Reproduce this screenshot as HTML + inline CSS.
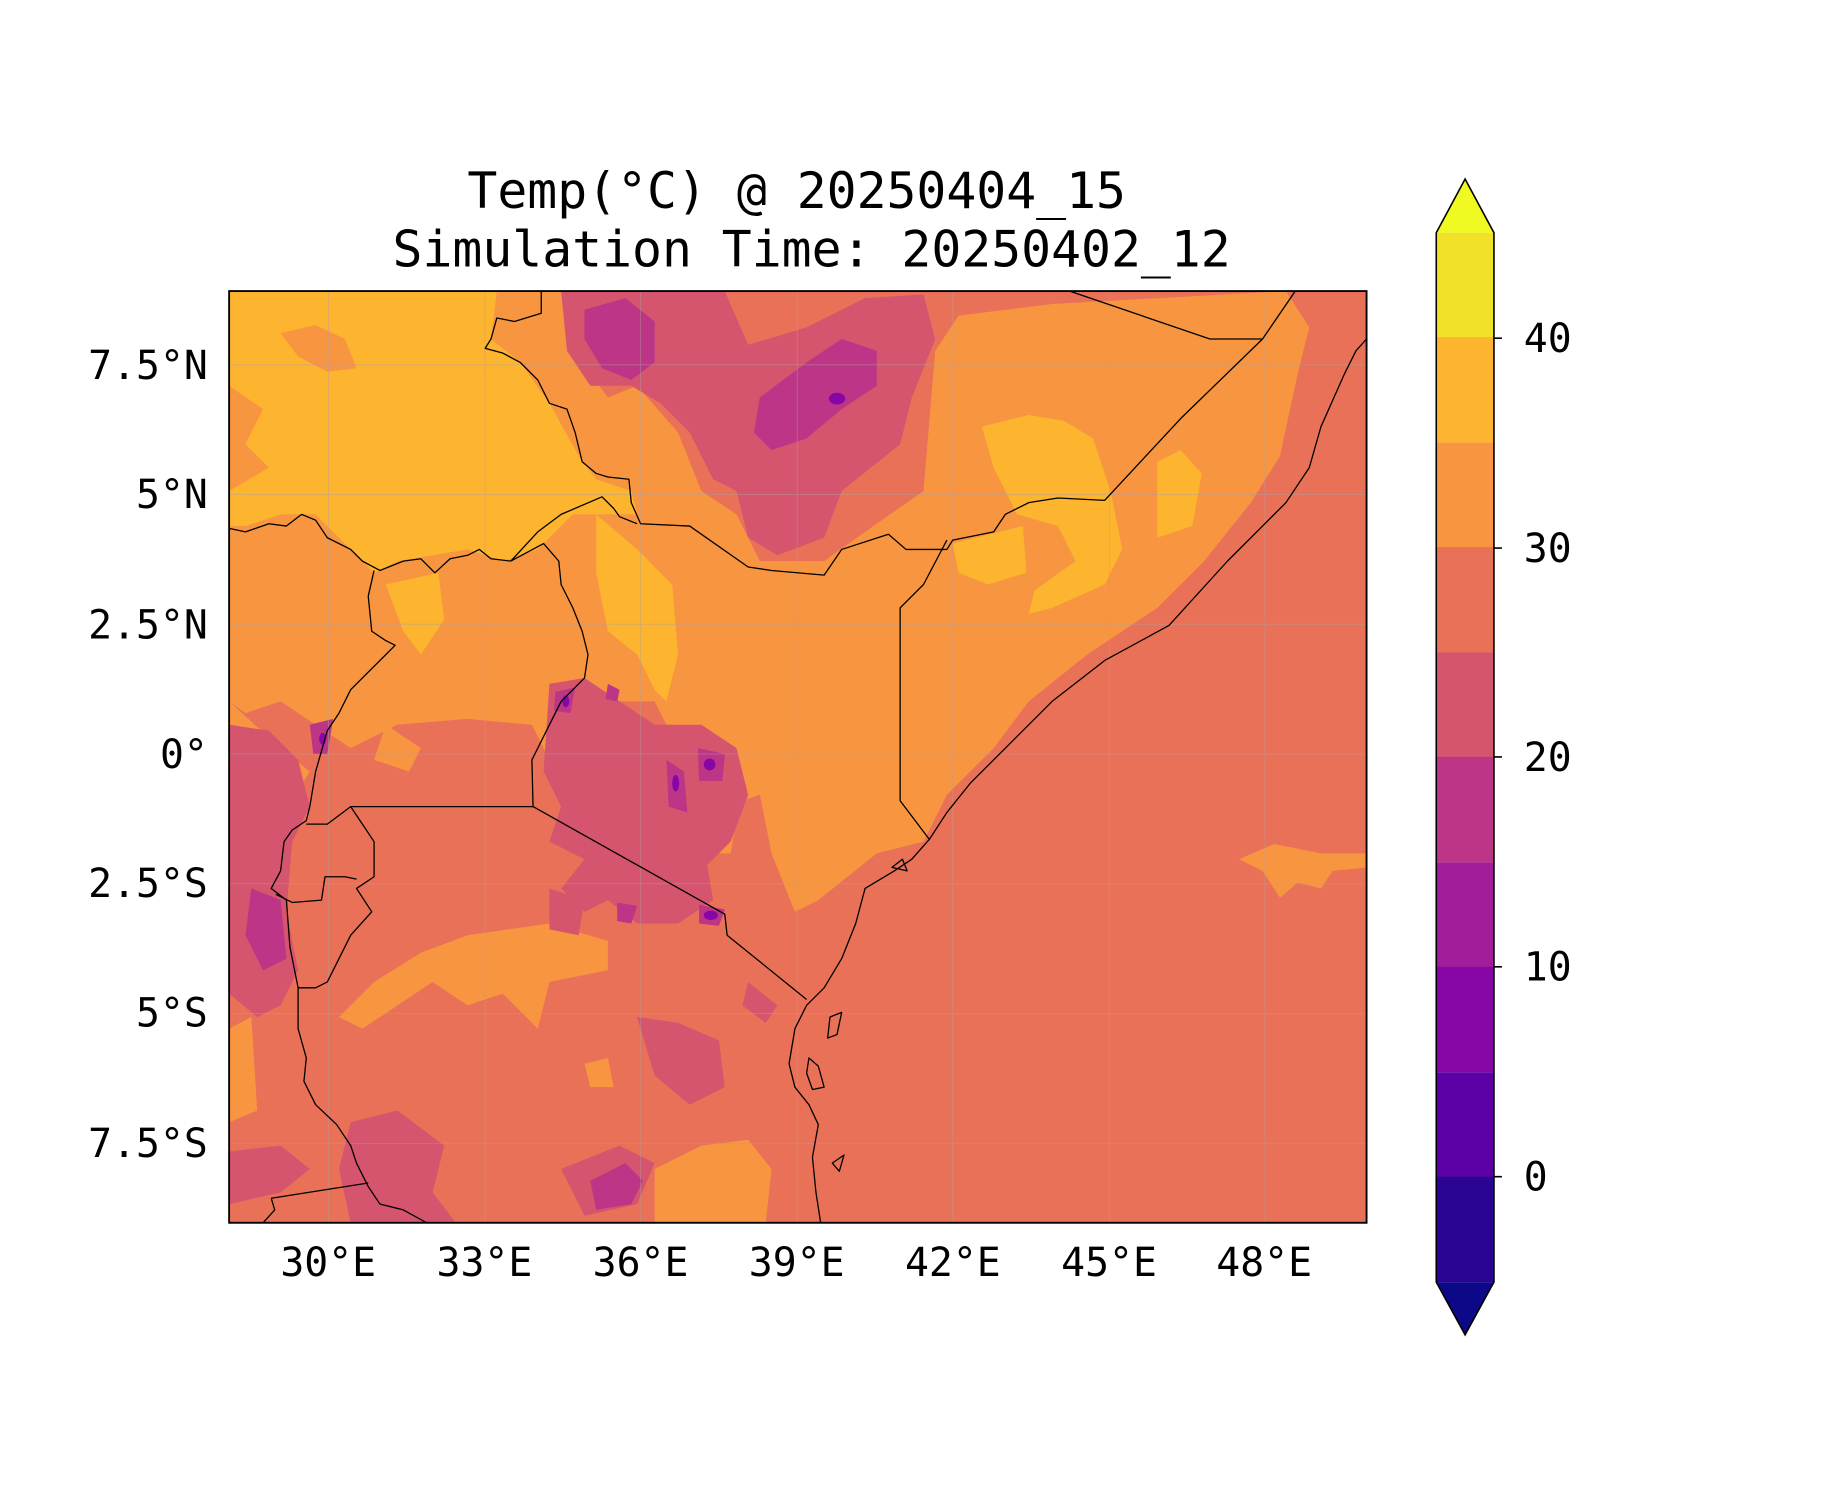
<!DOCTYPE html>
<html><head><meta charset="utf-8"><style>
html,body{margin:0;padding:0;background:#fff;}
svg{display:block;}
text{font-family:"DejaVu Sans Mono","Liberation Mono",monospace;fill:#000;}
</style></head><body>
<svg width="1833" height="1500" viewBox="0 0 1833 1500" xmlns="http://www.w3.org/2000/svg">
<rect width="1833" height="1500" fill="#fff"/>
<defs><clipPath id="c"><rect x="196" y="249" width="973" height="797"/></clipPath></defs>
<g transform="scale(0.99464)">
<g transform="scale(1.1753)">
<g clip-path="url(#c)">
<rect x="196" y="249" width="973" height="797" fill="#e97158"/>
<!-- 30-35 orange -->
<g fill="#f89540">
<path d="M196,249 L480,249 L490,300 L520,340 L545,330 L580,370 L600,420 L630,440 L650,480 L705,480 L740,455 L790,420 L800,300 L820,270 L900,260 L1100,249 L1120,280 L1110,320 L1095,390 L1070,430 L1030,480 L990,520 L930,560 L880,600 L850,640 L810,680 L790,720 L750,730 L700,770 L680,780 L660,730 L650,680 L620,690 L610,640 L580,640 L560,600 L520,600 L505,640 L470,650 L455,620 L400,615 L340,620 L300,640 L270,620 L240,600 L210,610 L196,600 Z"/>
<path d="M196,600 L240,640 L265,660 L240,700 L210,690 L196,680 Z"/>
<path d="M330,620 L360,640 L350,660 L320,650 Z"/>
<path d="M400,800 L470,790 L520,805 L520,830 L470,840 L460,880 L430,850 L400,860 L370,840 L340,860 L310,880 L290,870 L320,840 L360,815 Z"/>
<path d="M560,1000 L600,980 L640,975 L660,1000 L655,1046 L560,1046 Z"/>
<path d="M1060,735 L1090,722 L1130,730 L1169,730 L1169,742 L1140,745 L1130,760 L1110,755 L1095,768 L1080,745 Z"/>
<path d="M196,880 L215,870 L220,950 L196,960 Z"/>
<path d="M600,690 L630,700 L625,730 L600,730 Z"/>
<path d="M500,910 L520,905 L525,930 L505,930 Z"/>
</g>
<!-- 35-40 ochre -->
<g fill="#fdb42f">
<path d="M196,249 L425,249 L420,290 L445,310 L470,345 L495,390 L510,410 L540,420 L545,440 L520,440 L490,440 L460,470 L430,480 L400,470 L340,480 L320,490 L300,470 L270,440 L240,440 L210,450 L196,450 L196,420 L230,400 L210,380 L225,350 L196,330 Z"/>
<path d="M240,285 L270,278 L295,290 L305,315 L280,318 L255,305 Z" fill="#f89540"/>
<path d="M330,500 L375,490 L380,530 L360,560 L345,540 Z"/>
<path d="M510,440 L545,470 L575,500 L580,560 L570,600 L560,590 L545,560 L520,540 L510,490 Z"/>
<path d="M840,365 L880,355 L910,360 L935,375 L950,420 L960,470 L945,500 L900,520 L880,525 L885,505 L920,480 L905,450 L870,440 L850,400 Z"/>
<path d="M990,395 L1010,385 L1028,405 L1020,450 L990,460 Z"/>
<path d="M815,465 L875,450 L878,490 L845,500 L820,490 Z"/>
<path d="M555,700 L570,710 L565,740 L550,735 Z"/>
</g>
<!-- 20-25 -->
<g fill="#d5546e">
<path d="M480,249 L620,249 L640,295 L690,280 L740,255 L790,252 L800,290 L780,340 L770,380 L745,400 L720,420 L705,460 L665,475 L640,460 L630,420 L610,410 L590,370 L565,345 L540,330 L505,330 L485,300 Z"/>
<path d="M470,585 L500,580 L530,600 L560,620 L600,620 L630,640 L640,680 L625,720 L605,740 L610,770 L580,790 L545,790 L520,770 L500,780 L480,760 L500,735 L470,720 L480,690 L465,660 Z"/>
<path d="M196,620 L230,625 L255,650 L265,690 L250,720 L245,780 L255,830 L240,860 L220,870 L196,850 Z"/>
<path d="M300,960 L340,950 L380,980 L370,1020 L390,1046 L300,1046 L290,1000 Z"/>
<path d="M545,870 L580,875 L615,890 L620,930 L590,945 L560,920 Z"/>
<path d="M196,985 L240,980 L265,1000 L240,1020 L196,1030 Z"/>
<path d="M480,1000 L530,980 L560,995 L545,1030 L500,1040 Z"/>
<path d="M640,840 L665,860 L655,875 L635,860 Z"/>
<path d="M470,760 L500,770 L495,800 L470,795 Z"/>
</g>
<!-- 15-20 -->
<g fill="#bc3587">
<path d="M500,265 L535,255 L560,275 L560,310 L540,325 L515,315 L500,290 Z"/>
<path d="M650,340 L690,310 L720,290 L750,300 L750,330 L720,350 L690,375 L660,385 L645,370 Z"/>
<path d="M215,760 L240,770 L245,820 L225,830 L210,800 Z"/>
<path d="M505,1010 L535,995 L550,1010 L540,1030 L510,1035 Z"/>
<path d="M570,650 L585,660 L588,695 L572,690 Z"/>
<path d="M597,640 L620,645 L618,668 L598,668 Z"/>
<path d="M475,592 L492,588 L488,610 L474,608 Z"/>
<path d="M598,774 L620,778 L615,792 L598,790 Z"/>
<path d="M528,772 L545,775 L540,790 L528,788 Z"/>
<path d="M265,620 L285,615 L280,645 L268,645 Z"/>
<path d="M520,585 L530,590 L528,600 L518,598 Z"/>
</g>
<g fill="#8606a6">
<ellipse cx="716" cy="341" rx="7" ry="5"/>
<ellipse cx="607" cy="654" rx="5" ry="5"/>
<ellipse cx="608" cy="783" rx="6" ry="4"/>
<ellipse cx="484" cy="600" rx="3" ry="5"/>
<ellipse cx="578" cy="670" rx="3" ry="7"/>
<ellipse cx="276" cy="632" rx="3" ry="5"/>
</g>
<!-- grid -->
<g stroke="#b0a0a0" stroke-width="0.8" opacity="0.45">
<path d="M281,249V1046M415,249V1046M548,249V1046M682,249V1046M815,249V1046M949,249V1046M1082,249V1046"/>
<path d="M196,312H1169M196,423H1169M196,534H1169M196,645H1169M196,756H1169M196,867H1169M196,978H1169"/>
</g>
<!-- borders -->
<g fill="none" stroke="#000" stroke-width="1.1" stroke-linejoin="round">
<path d="M463,249 L463,268 L440,275 L425,272 L420,290 L415,298 L430,302 L445,310 L460,325 L470,345 L485,350 L492,370 L498,395 L510,405 L520,408 L538,410 L540,430 L548,448 L590,450 L640,485 L660,488 L705,492 L720,470 L760,457 L775,470 L810,470 L815,462 L850,455 L860,440 L880,430 L905,426 L945,428 L1010,358 L1080,290 L1108,249"/>
<path d="M915,249 L1035,290 L1080,290"/>
<path d="M810,462 L790,500 L770,520 L770,685 L795,718"/>
<path d="M1169,290 L1160,300 L1150,320 L1130,365 L1120,400 L1100,430 L1080,450 L1050,480 L1000,535 L945,565 L900,600 L860,640 L830,670 L810,695 L795,718 L780,735 L765,745 L740,760 L732,790 L720,820 L705,845 L690,860 L680,880 L675,910 L680,930 L692,945 L700,962 L695,990 L698,1020 L702,1046"/>
<path d="M456,690 L620,782 L622,800 L690,855"/>
<path d="M300,690 L317,690 L456,690"/>
<path d="M456,690 L455,650 L470,620 L480,600 L500,580 L503,560 L498,540 L490,520 L480,500 L478,480 L465,465 L437,480"/>
<path d="M437,480 L460,455 L480,440 L515,425 L525,435 L530,442 L545,448"/>
<path d="M437,480 L420,478 L410,470 L400,475 L385,478 L372,490 L360,478 L345,480 L325,488 L310,480 L300,470 L280,460 L270,445 L258,440 L245,450 L230,448 L210,455 L196,452"/>
<path d="M320,488 L315,510 L318,540 L330,548 L338,552 L320,570 L300,590 L290,610 L280,625 L270,660 L265,690 L262,702 L250,710 L243,720 L240,745 L232,760 L245,770 L248,810 L255,845 L255,880 L262,905 L260,925 L270,945 L288,962 L300,980 L305,995 L315,1015 L325,1030 L345,1035 L365,1046"/>
<path d="M262,705 L280,705 L300,690 L310,705 L320,720 L320,750 L305,760 L318,780 L300,800 L290,820 L280,840 L270,845 L255,845"/>
<path d="M236,765 L250,772 L275,770 L278,750 L295,750 L305,752"/>
<path d="M232,1025 L315,1012"/>
<path d="M232,1025 L235,1035 L225,1046"/>
<path d="M710,870 L720,866 L716,885 L708,888 Z"/>
<path d="M692,905 L700,912 L705,930 L695,932 L690,918 Z"/>
<path d="M712,995 L722,988 L718,1002 Z"/>
<path d="M763,742 L772,735 L776,745 Z"/>
</g>
</g>
<rect x="196" y="249" width="973" height="797" fill="none" stroke="#000" stroke-width="1.6"/>
</g>
<!-- title -->
<text x="801" y="209" font-size="50" text-anchor="middle">Temp(°C) @ 20250404_15</text>
<text x="816" y="268" font-size="50" text-anchor="middle">Simulation Time: 20250402_12</text>
<!-- x ticks -->
<g font-size="40" text-anchor="middle">
<text x="330" y="1283">30°E</text><text x="487" y="1283">33°E</text><text x="644" y="1283">36°E</text><text x="801" y="1283">39°E</text><text x="958" y="1283">42°E</text><text x="1115" y="1283">45°E</text><text x="1271" y="1283">48°E</text>
</g>
<g font-size="40" text-anchor="end">
<text x="209" y="381">7.5°N</text><text x="209" y="511">5°N</text><text x="209" y="642">2.5°N</text><text x="209" y="772">0°</text><text x="209" y="902">2.5°S</text><text x="209" y="1032">5°S</text><text x="209" y="1163">7.5°S</text>
</g>
<!-- colorbar -->
<g>
<polygon points="1444,234 1473,180 1502,234" fill="#f0f921"/>
<polygon points="1444,1289 1473,1342 1502,1289" fill="#0d0887"/>
<rect x="1444" y="234" width="58" height="106" fill="#f2e129"/>
<rect x="1444" y="339" width="58" height="106" fill="#fdb42f"/>
<rect x="1444" y="445" width="58" height="106" fill="#f89540"/>
<rect x="1444" y="550" width="58" height="106" fill="#e97158"/>
<rect x="1444" y="656" width="58" height="106" fill="#d5546e"/>
<rect x="1444" y="761" width="58" height="106" fill="#bc3587"/>
<rect x="1444" y="867" width="58" height="106" fill="#a21d9a"/>
<rect x="1444" y="972" width="58" height="106" fill="#8606a6"/>
<rect x="1444" y="1078" width="58" height="106" fill="#5c01a6"/>
<rect x="1444" y="1183" width="58" height="106" fill="#2a0593"/>
<polygon points="1444,234 1473,180 1502,234 1502,1289 1473,1342 1444,1289" fill="none" stroke="#000" stroke-width="1.6"/>
<g stroke="#000" stroke-width="1.6"><path d="M1502,340H1510M1502,551H1510M1502,761H1510M1502,972H1510M1502,1183H1510"/></g>
<g font-size="40"><text x="1532" y="354">40</text><text x="1532" y="565">30</text><text x="1532" y="775">20</text><text x="1532" y="986">10</text><text x="1532" y="1197">0</text></g>
</g>
</g>
</svg>
</body></html>
